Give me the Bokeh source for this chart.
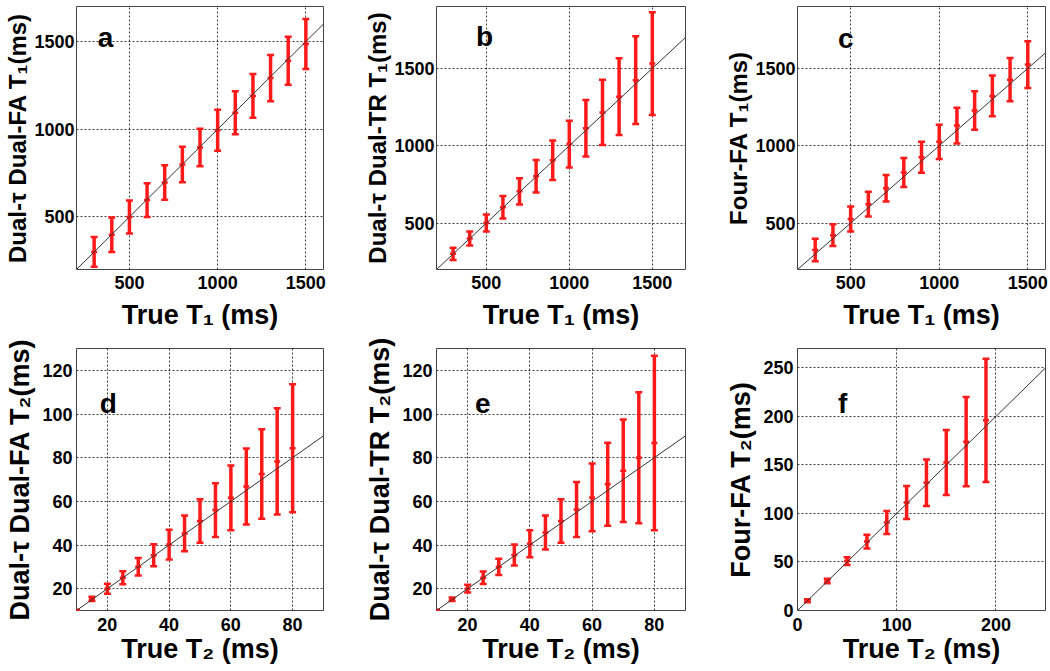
from bokeh.plotting import figure
from bokeh.layouts import column, row
from bokeh.models import Range1d, Label, ColumnDataSource
from bokeh.embed import file_html
from bokeh.resources import INLINE

# ---------------- data ----------------
T1_true = [300, 400, 500, 600, 700, 800, 900, 1000, 1100, 1200, 1300, 1400, 1500]
a_mean = [300, 398, 500, 596, 696, 799, 896, 994, 1094, 1190, 1292, 1391, 1486]
a_sd = [85, 98, 94, 96, 98, 101, 107, 117, 122, 125, 132, 137, 142]
b_mean = [301, 400, 500, 602, 705, 803, 906, 1011, 1113, 1215, 1317, 1424, 1531]
b_sd = [40, 45, 55, 73, 85, 105, 128, 151, 182, 211, 248, 284, 332]
c_mean = [326, 422, 526, 622, 725, 827, 926, 1025, 1130, 1228, 1322, 1427, 1525]
c_sd = [72, 70, 81, 80, 86, 93, 100, 111, 115, 124, 132, 140, 151]

T2_true = [10, 15, 20, 25, 30, 35, 40, 45, 50, 55, 60, 65, 70, 75, 80]
d_mean = [10, 15.3, 20, 25, 30, 35.3, 40.2, 45.3, 51, 56, 61.6, 66.8, 72.5, 78.3, 84.3]
d_sd = [0.4, 1, 2.3, 3, 4, 5, 6.8, 8.2, 10, 12.3, 14.8, 17.4, 20.5, 24.3, 29.3]
e_mean = [10, 15.2, 20, 25, 30, 35.4, 40.6, 45.7, 51, 56.3, 61.8, 67.8, 74, 80, 86.7]
e_sd = [0.4, 0.8, 1.8, 2.9, 3.7, 4.8, 6.2, 7.8, 10, 12.6, 15.5, 19, 23.5, 30, 40]

T2f_true = [10, 30, 50, 70, 90, 110, 130, 150, 170, 190]
f_mean = [10, 30.4, 51, 71, 90.7, 111.3, 131.7, 152.5, 174, 196]
f_sd = [1.5, 2.2, 4, 7, 11.8, 17, 24, 33.5, 46, 63.5]

x_label_T1 = "True T\u2081 (ms)"
x_label_T2 = "True T\u2082 (ms)"
y_labels = ["Dual-\u03c4 Dual-FA T\u2081(ms)", "Dual-\u03c4 Dual-TR T\u2081(ms)", "Four-FA T\u2081(ms)",
            "Dual-\u03c4 Dual-FA T\u2082(ms)", "Dual-\u03c4 Dual-TR T\u2082(ms)", "Four-FA T\u2082(ms)"]
letters = ["a", "b", "c", "d", "e", "f"]

FONT = "Liberation Sans"
RED = "#ff1a1a"


def panel(x, mean, sd, xr, yr, xticks, yticks, xlabel, ylabel, letter, lpos,
          fw, fh, bl, br, bt, bb, xtick_standoff, xlab_standoff, ylab_size,
          ytick_standoff, ylab_standoff):
    p = figure(frame_width=fw, frame_height=fh, min_border_left=bl, min_border_right=br,
               min_border_top=bt, min_border_bottom=bb,
               x_range=Range1d(*xr), y_range=Range1d(*yr),
               output_backend="svg", toolbar_location=None,
               background_fill_color="white", border_fill_color="white")
    p.outline_line_color = "#444444"
    p.outline_line_width = 1
    p.outline_line_alpha = 1
    for ax in (p.xaxis[0], p.yaxis[0]):
        ax.axis_line_color = None
        ax.major_tick_out = 0
        ax.major_tick_in = 0
        ax.minor_tick_line_color = None
        ax.major_label_text_font = FONT
        ax.major_label_text_font_style = "bold"
        ax.major_label_text_font_size = "18px"
        ax.major_label_text_color = "black"
        ax.axis_label_text_font = FONT
        ax.axis_label_text_font_style = "bold"
        ax.axis_label_text_color = "black"
    p.xaxis.ticker = xticks
    p.yaxis.ticker = yticks
    p.xaxis.axis_label = xlabel
    p.yaxis.axis_label = ylabel
    p.xaxis.axis_label_text_font_size = "27px"
    p.yaxis.axis_label_text_font_size = ylab_size
    p.xaxis.major_label_standoff = xtick_standoff
    p.xaxis.axis_label_standoff = xlab_standoff
    p.yaxis.major_label_standoff = ytick_standoff
    p.yaxis.axis_label_standoff = ylab_standoff
    for g in (p.xgrid[0], p.ygrid[0]):
        g.grid_line_color = "black"
        g.grid_line_dash = "2 2"
        g.grid_line_alpha = 0.75
        g.grid_line_width = 1

    lo = [m - s for m, s in zip(mean, sd)]
    hi = [m + s for m, s in zip(mean, sd)]
    src = ColumnDataSource(dict(x=x, m=mean, lo=lo, hi=hi))
    p.segment(x0="x", y0="lo", x1="x", y1="hi", source=src, line_color=RED, line_width=3.5)
    p.scatter(x="x", y="hi", source=src, marker="dash", size=7, line_color=RED, line_width=2.5)
    p.scatter(x="x", y="lo", source=src, marker="dash", size=7, line_color=RED, line_width=2.5)
    p.scatter(x="x", y="m", source=src, marker="dash", size=6, line_color=RED, line_width=2.5)

    d0, d1 = xr[0], xr[1]
    p.line([d0, d1], [d0, d1], line_color="#333333", line_width=1)

    p.add_layout(Label(x=lpos[0], y=lpos[1], text=letter, text_font=FONT,
                       text_font_style="bold", text_font_size="28px", text_color="black",
                       text_align="center", text_baseline="middle"))
    return p


T1_TICKS = [500, 1000, 1500]
T2_TICKS = [20, 40, 60, 80]
T2_YTICKS = [20, 40, 60, 80, 100, 120]
F_XTICKS = [0, 100, 200]
F_YTICKS = [0, 50, 100, 150, 200, 250]

# row 1
pa = panel(T1_true, a_mean, a_sd, (200, 1600), (200, 1700), T1_TICKS, T1_TICKS,
           x_label_T1, y_labels[0], letters[0], (365, 1522),
           247, 263, 76, 36, 6, 64, 6, 8, "24px", 2, 0)
pb = panel(T1_true, b_mean, b_sd, (200, 1700), (200, 1900), T1_TICKS, T1_TICKS,
           x_label_T1, y_labels[1], letters[1], (490, 1705),
           249, 263, 77, 35, 6, 64, 6, 8, "24px", 2, 0)
pc = panel(T1_true, c_mean, c_sd, (200, 1600), (200, 1900), T1_TICKS, T1_TICKS,
           x_label_T1, y_labels[2], letters[2], (472, 1692),
           248, 263, 77, 3, 6, 64, 6, 8, "24px", 2, 0)
# row 2
pd_ = panel(T2_true, d_mean, d_sd, (10, 90), (10, 130), T2_TICKS, T2_YTICKS,
            x_label_T2, y_labels[3], letters[3], (20.3, 105),
            247, 262, 76, 36, 15, 57, 7, 0, "27px", 4, 4)
pe = panel(T2_true, e_mean, e_sd, (10, 90), (10, 130), T2_TICKS, T2_YTICKS,
           x_label_T2, y_labels[4], letters[4], (24.9, 105),
           249, 262, 77, 35, 15, 57, 7, 0, "27px", 4, 4)
pf = panel(T2f_true, f_mean, f_sd, (0, 250), (0, 270), F_XTICKS, F_YTICKS,
           x_label_T2, y_labels[5], letters[5], (45.5, 213),
           248, 262, 77, 3, 15, 57, 7, 0, "27px", 4, 4)

layout = column(row(pa, pb, pc, spacing=0), row(pd_, pe, pf, spacing=0), spacing=0)

open("out.html", "w").write(file_html(layout, INLINE))
